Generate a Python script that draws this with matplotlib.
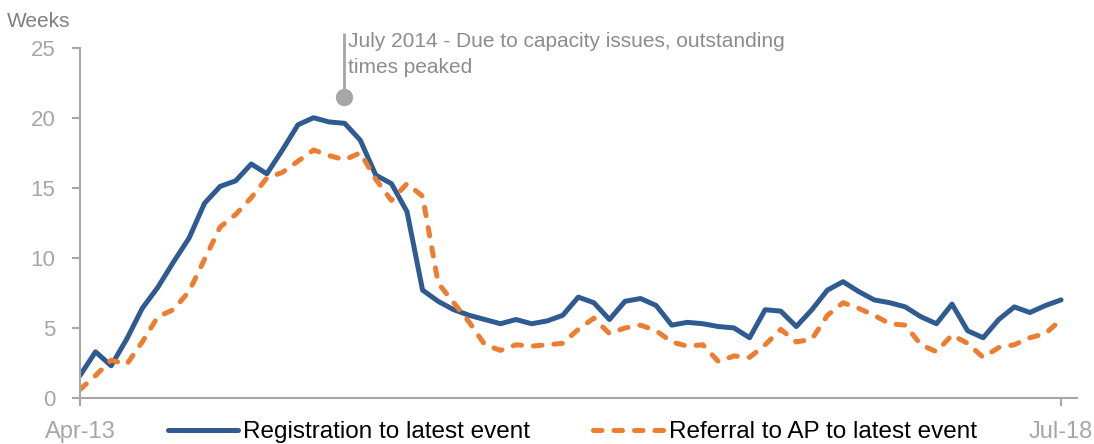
import pandas as pd
import matplotlib
matplotlib.use("Agg")
import matplotlib.pyplot as plt

# Monthly values, Apr-13 .. Jul-18 (weeks)
months = pd.date_range("2013-04-01", periods=64, freq="MS")
month_labels = [d.strftime("%b-%y") for d in months]

registration = [1.6, 3.3, 2.3, 4.2, 6.4, 7.9, 9.7, 11.4, 13.9, 15.1, 15.5, 16.7,
                16.0, 17.7, 19.5, 20.0, 19.7, 19.6, 18.4, 15.9, 15.3, 13.3, 7.7, 6.9,
                6.3, 5.9, 5.6, 5.3, 5.6, 5.3, 5.5, 5.9, 7.2, 6.8, 5.6, 6.9,
                7.1, 6.6, 5.2, 5.4, 5.3, 5.1, 5.0, 4.3, 6.3, 6.2, 5.1, 6.3,
                7.7, 8.3, 7.6, 7.0, 6.8, 6.5, 5.8, 5.3, 6.7, 4.8, 4.3, 5.6,
                6.5, 6.1, 6.6, 7.0]

referral = [0.6, 1.6, 2.7, 2.4, 4.0, 5.8, 6.3, 7.6, 9.9, 12.2, 13.1, 14.3,
            15.7, 16.1, 16.9, 17.7, 17.3, 17.0, 17.5, 15.6, 14.1, 15.3, 14.4, 8.2,
            6.8, 5.4, 3.8, 3.4, 3.8, 3.7, 3.8, 3.9, 4.9, 5.7, 4.6, 5.0,
            5.2, 4.8, 4.0, 3.7, 3.8, 2.6, 3.0, 2.9, 3.8, 4.9, 4.0, 4.2,
            5.9, 6.8, 6.4, 5.9, 5.3, 5.2, 3.8, 3.3, 4.5, 3.9, 2.9, 3.6,
            3.8, 4.3, 4.6, 5.6]

series_names = ["Registration to latest event", "Referral to AP to latest event"]
note_text = "July 2014 - Due to capacity issues, outstanding\ntimes peaked"
note_x, note_y = 16.96, 21.46   # marker position (data coords)

BLUE = "#2F5B91"
ORANGE = "#ED7D31"
GREY = "#A6A6A6"

plt.rcParams["font.family"] = ["Liberation Sans", "DejaVu Sans"]

fig = plt.figure(figsize=(10.94, 4.44), dpi=100)
ax = fig.add_axes([0.0731, 0.1036, 0.911, 0.789])

x = list(range(len(months)))
ax.plot(x, registration, color=BLUE, lw=3.6, solid_capstyle="round",
        solid_joinstyle="round", label=series_names[0])
ax.plot(x, referral, color=ORANGE, lw=3.6, dashes=(1.7, 2.4),
        dash_capstyle="round", dash_joinstyle="round", label=series_names[1])

# annotation pin + text
ax.plot([note_x, note_x], [note_y, 26.07], color=GREY, lw=2, clip_on=False,
        solid_capstyle="butt")
ax.plot([note_x], [note_y], "o", color=GREY, ms=11.5, clip_on=False)
ax.text(note_x + 0.25, 26.1, note_text, color="#8C8C8C", fontsize=15,
        va="top", ha="left", linespacing=1.45)

ax.set_xlim(0, 64)
ax.set_ylim(0, 25)
ax.set_yticks([0, 5, 10, 15, 20, 25])
ax.set_xticks([0, len(months) - 1])
ax.set_xticklabels([month_labels[0], month_labels[-1]])

for side in ["top", "right"]:
    ax.spines[side].set_visible(False)
for side in ["left", "bottom"]:
    ax.spines[side].set_color(GREY)
    ax.spines[side].set_linewidth(1.5)

ax.tick_params(axis="y", length=5.8, width=1.5, color=GREY, labelcolor=GREY,
               labelsize=16, pad=12)
ax.tick_params(axis="x", length=5.8, width=1.5, color=GREY, labelcolor=GREY,
               labelsize=17, pad=11)

fig.text(7 / 1094, 0.939, "Weeks", color="#7F7F7F", fontsize=15,
         ha="left", va="baseline")

fig.legend(loc="center", bbox_to_anchor=(0.523, 0.027), ncol=2, frameon=False,
           fontsize=17.5, handlelength=2.9, handletextpad=0.2,
           columnspacing=2.6, borderpad=0, borderaxespad=0)

fig.savefig("out.png", dpi=100)
